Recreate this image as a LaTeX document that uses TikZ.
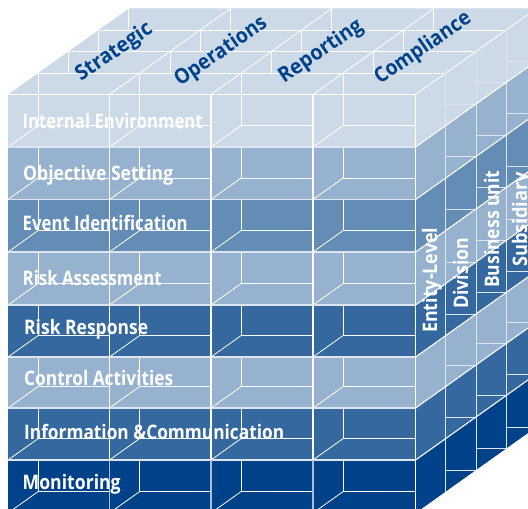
\documentclass[tikz,border=0pt]{standalone}
\usepackage{fontspec}
\setmainfont{Open Sans}
\definecolor{rowA}{HTML}{CCD9E6}
\definecolor{rowB}{HTML}{97B2CF}
\definecolor{rowC}{HTML}{648DB6}
\definecolor{rowD}{HTML}{34689F}
\definecolor{rowE}{HTML}{004289}
\definecolor{sepc}{HTML}{DDE6F0}
\definecolor{palev}{HTML}{A8BFD6}
\newcommand{\fitw}[2]{\resizebox{#1pt}{\height}{#2}}
\tikzset{
  thinline/.style={draw=white,line width=0.8pt},
  thickline/.style={draw=white,line width=1.3pt},
  sepline/.style={draw=sepc,line width=1.2pt},
  rowlabel/.style={text=white,anchor=base west,inner sep=0pt,font=\fontsize{20}{22}\selectfont\bfseries},
  toplabel/.style={text=rowE,anchor=base west,inner sep=0pt,rotate=34.5,font=\fontsize{21}{23}\selectfont\bfseries},
  sidelabel/.style={text=white,anchor=base west,inner sep=0pt,rotate=90,font=\fontsize{20}{22}\selectfont\bfseries}
}
\begin{document}
\begin{tikzpicture}[x=1pt,y=-1pt]
\useasboundingbox (0,0) rectangle (528,509);
\clip (0,0) rectangle (528,509);
% depth step (30.2,-21.5)
% top face
\fill[rowA] (8,94.5) -- (128.8,8.5) -- (536.4,8.5) -- (415.6,94.5) -- cycle;
% row bands, front and side
\foreach \ya/\yb/\c in {94.5/147/rowA,147/199.5/rowB,199.5/252/rowC,252/305/rowB,305/357/rowD,357/408/rowB,408/460/rowD,460/513/rowE}{
  \fill[\c] (8,\ya) rectangle (415.6,\yb);
  \fill[\c] (415.6,\ya) -- (536.4,\ya-86) -- (536.4,\yb-86) -- (415.6,\yb) -- cycle;
}
% top face lines
\foreach \k in {1,2,3}{
  \draw[thinline] ({8+30.2*\k},{94.5-21.5*\k}) -- ({415.6+30.2*\k},{94.5-21.5*\k});
}
\draw[draw=sepc,line width=0.8pt] (128.8,8.5) -- (536.4,8.5);
\foreach \xx in {8,109.5,211,313}{
  \foreach \k in {1,2,3,4}{
    \draw[thinline] ({\xx+30.2*\k},{94.5-21.5*\k}) -- ({\xx+30.2*\k},{94.5-21.5*(\k-1)});
  }
}
\foreach \xx in {109.5,211,313,415.6}{
  \draw[thinline] (\xx,94.5) -- ++(120.8,-86);
}
% inner cell lines of the front
\foreach \xa/\xb in {8/109.5,109.5/211,211/313,313/415.6}{
  \foreach \ya/\yb in {94.5/147,147/199.5,199.5/252,252/305,305/357,357/408,408/460,460/513}{
    \draw[thinline] (\xa+30.2,\ya) -- (\xa+30.2,\yb-21.5) -- (\xb,\yb-21.5);
    \draw[thinline] (\xa,\yb) -- (\xa+30.2,\yb-21.5);
  }
}
% row separators
\foreach \yy in {147,199.5,252,305,357,408,460}{
  \draw[sepline] (8,\yy) -- (415.6,\yy);
}
\draw[thickline] (8,94.5) -- (415.6,94.5);
% column lines
\foreach \xx in {109.5,211,313}{
  \draw[thickline] (\xx,94.5) -- (\xx,460);
  \draw[draw=palev,line width=1.3pt] (\xx,460) -- (\xx,513);
}
\draw[thickline] (415.6,94.5) -- (415.6,513);
% side face lines
\foreach \k in {1,2,3}{
  \draw[draw=sepc,line width=1pt] ({415.6+30.2*\k},{94.5-21.5*\k}) -- ({415.6+30.2*\k},{513-21.5*\k});
}
\foreach \yb in {147,199.5,252,305,357,408,460,513}{
  \foreach \k in {2,3,4}{
    \draw[draw=sepc,line width=0.9pt] ({415.6+30.2*(\k-1)},{\yb-21.5*\k}) -- ({415.6+30.2*\k},{\yb-21.5*\k});
  }
}
\foreach \yy in {147,199.5,252,305,357,408,460}{
  \draw[thinline,line width=1.1pt] (415.6,\yy) -- ++(120.8,-86);
}
% row labels
\node[rowlabel] (internal) at (22.5,128.3) {\fitw{180}{Internal Environment}};
\node[rowlabel] (objective) at (23,180) {\fitw{150}{Objective Setting}};
\node[rowlabel] (event) at (22.5,230) {\fitw{165}{Event Identification}};
\node[rowlabel] (assess) at (22.5,285) {\fitw{139}{Risk Assessment}};
\node[rowlabel] (response) at (24,334) {\fitw{124}{Risk Response}};
\node[rowlabel] (control) at (24,385) {\fitw{149}{Control Activities}};
\node[rowlabel] (info) at (24,439) {\fitw{260}{Information \&Communication}};
\node[rowlabel] (monitor) at (22.5,489) {\fitw{98}{Monitoring}};
% top labels
\node[toplabel] (strategic) at (81,82) {\fitw{88}{Strategic}};
\node[toplabel] (operations) at (180,87) {\fitw{107}{Operations}};
\node[toplabel] (reporting) at (284,84) {\fitw{97}{Reporting}};
\node[toplabel] (compliance) at (380,85) {\fitw{112}{Compliance}};
% side labels
\node[sidelabel] (entity) at (437,333) {\fitw{105}{Entity-Level}};
\node[sidelabel] (division) at (468,309) {\fitw{71}{Division}};
\node[sidelabel] (business) at (499,288) {\fitw{117}{Business unit}};
\node[sidelabel] (subsidiary) at (527,267) {\fitw{95}{Subsidiary}};
\end{tikzpicture}
\end{document}
